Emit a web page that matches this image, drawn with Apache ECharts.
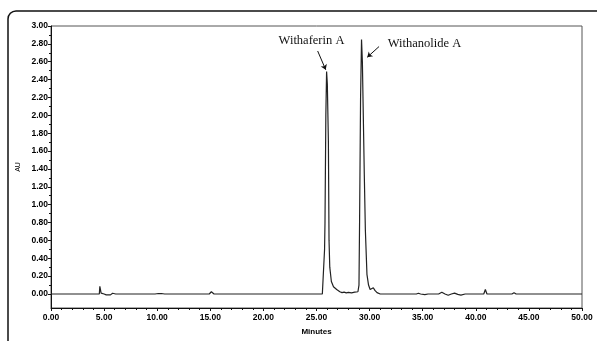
<!DOCTYPE html>
<html>
<head>
<meta charset="utf-8">
<script src="https://cdn.jsdelivr.net/npm/echarts@6/dist/echarts.min.js"></script>
<style>
  html, body { margin: 0; padding: 0; background: #fff; }
  #vis { width: 597px; height: 341px; }
</style>
</head>
<body>
<div id="vis"></div>
<script>
// retention time (min) and absorbance (AU)
const times = [
  0, 3.6, 3.75, 3.9, 4.55, 4.6, 4.66, 4.72, 4.8, 5.0, 5.2, 5.6, 5.8, 5.95, 6.1,
  9.8, 9.95, 10.1, 10.4, 10.55, 10.7, 14.9, 15.1, 15.35,
  25.55, 25.7, 25.76, 25.8, 25.88, 25.95, 26.02, 26.12, 26.18, 26.25, 26.4, 26.6, 26.9,
  27.2, 27.4, 27.6, 27.8, 28.0, 28.3, 28.6, 28.9,
  29.0, 29.06, 29.15, 29.24, 29.32, 29.42, 29.5, 29.6, 29.75, 29.9, 30.05, 30.2, 30.35, 30.5, 30.7, 31.0,
  34.4, 34.6, 34.8, 35.2, 35.5, 35.8, 36.5, 36.8, 37.1, 37.4, 37.7, 38.0, 38.3, 38.6, 39.0,
  40.75, 40.9, 41.05, 43.4, 43.6, 43.8, 50
];
const absorbance = [
  0, 0, 0.02, 0, 0, 0.085, 0.08, 0.01, 0, 0, -0.01, -0.01, 0.008, 0.01, 0,
  0, 0.01, 0.005, 0.005, 0.01, 0, 0, 0.025, 0,
  0, 0.02, 0.5, 0.8, 2.0, 2.49, 2.35, 1.7, 0.6, 0.3, 0.14, 0.08, 0.05,
  0.025, 0.015, 0.02, 0.012, 0.018, 0.012, 0.02, 0.025,
  0.1, 0.85, 2.2, 2.85, 2.6, 1.9, 1.34, 0.72, 0.22, 0.1, 0.05, 0.04, 0.07, 0.04, 0.015, 0,
  0, 0.008, 0, -0.008, 0, 0, 0, 0.02, 0, -0.015, 0, 0.01, -0.005, -0.012, 0,
  0, 0.05, 0, 0, 0.015, 0, 0
];

const peakNames = ['Withaferin A', 'Withanolide A'];
const labelAt = [[24.53, 2.83], [35.17, 2.80]];
const arrowFrom = [[25.11, 2.72], [30.89, 2.77]];
const arrowTo = [[25.87, 2.51], [29.78, 2.65]];

const yTicks = [];
for (let v = 0; v <= 3.0001; v += 0.2) yTicks.push(+v.toFixed(2));
const yMinor = [];
for (let v = 0.1; v < 3.0; v += 0.2) yMinor.push(+v.toFixed(2));

const chart = echarts.init(document.getElementById('vis'), null, { renderer: 'canvas' });

const tickFont = { fontFamily: 'Liberation Sans', fontSize: 8.5, fontWeight: 'bold', color: '#000' };

const option = {
  animation: false,
  backgroundColor: '#fff',
  grid: {
    left: 51, right: 15, top: 26, bottom: 28,
    show: true, borderColor: '#555', borderWidth: 1
  },
  graphic: [{
    type: 'rect',
    shape: { x: 8, y: 11, width: 620, height: 345, r: 8 },
    style: { fill: 'none', stroke: '#111', lineWidth: 1.5 },
    silent: true
  }],
  xAxis: {
    type: 'value', min: 0, max: 50, interval: 5,
    name: 'Minutes', nameLocation: 'middle', nameGap: 20,
    nameTextStyle: { fontFamily: 'Liberation Sans', fontSize: 8, fontWeight: 'bold', color: '#000' },
    axisLine: { onZero: false, lineStyle: { color: '#111' } },
    axisTick: { length: 3, lineStyle: { color: '#111' } },
    minorTick: { show: true, splitNumber: 5, length: 2, lineStyle: { color: '#111' } },
    axisLabel: { ...tickFont, margin: 5, formatter: v => v.toFixed(2) },
    splitLine: { show: false }
  },
  yAxis: [{
    type: 'value', min: -0.157, max: 3.0,
    name: 'AU', nameLocation: 'middle', nameGap: 29, nameRotate: 90,
    nameMoveOverlap: false,
    nameTextStyle: { fontFamily: 'Liberation Sans', fontSize: 7, color: '#000' },
    axisLine: { show: true, lineStyle: { color: '#111' } },
    axisTick: { show: true, length: 3, customValues: yTicks, lineStyle: { color: '#111' } },
    axisLabel: { ...tickFont, margin: 3, customValues: yTicks, formatter: v => v.toFixed(2) },
    splitLine: { show: false }
  }, {
    type: 'value', min: -0.157, max: 3.0, position: 'left',
    axisLine: { show: false },
    axisTick: { show: true, length: 2, customValues: yMinor, lineStyle: { color: '#111' } },
    axisLabel: { show: false, customValues: yMinor },
    splitLine: { show: false }
  }],
  series: [{
    type: 'line',
    data: times.map((t, i) => [t, absorbance[i]]),
    showSymbol: false,
    lineStyle: { color: '#222', width: 1.2 },
    markLine: {
      silent: true,
      symbol: ['none', 'arrow'],
      symbolSize: 5,
      lineStyle: { color: '#111', width: 1, type: 'solid' },
      label: { show: false },
      data: arrowFrom.map((p, i) => [{ coord: p }, { coord: arrowTo[i] }])
    },
    markPoint: {
      silent: true,
      symbol: 'circle',
      symbolSize: 0,
      label: {
        show: true, position: 'inside',
        fontFamily: 'Liberation Serif', fontSize: 12.5, color: '#111',
        formatter: p => p.name
      },
      data: labelAt.map((p, i) => ({ name: peakNames[i], coord: p }))
    }
  }]
};

chart.setOption(option);
</script>
</body>
</html>
